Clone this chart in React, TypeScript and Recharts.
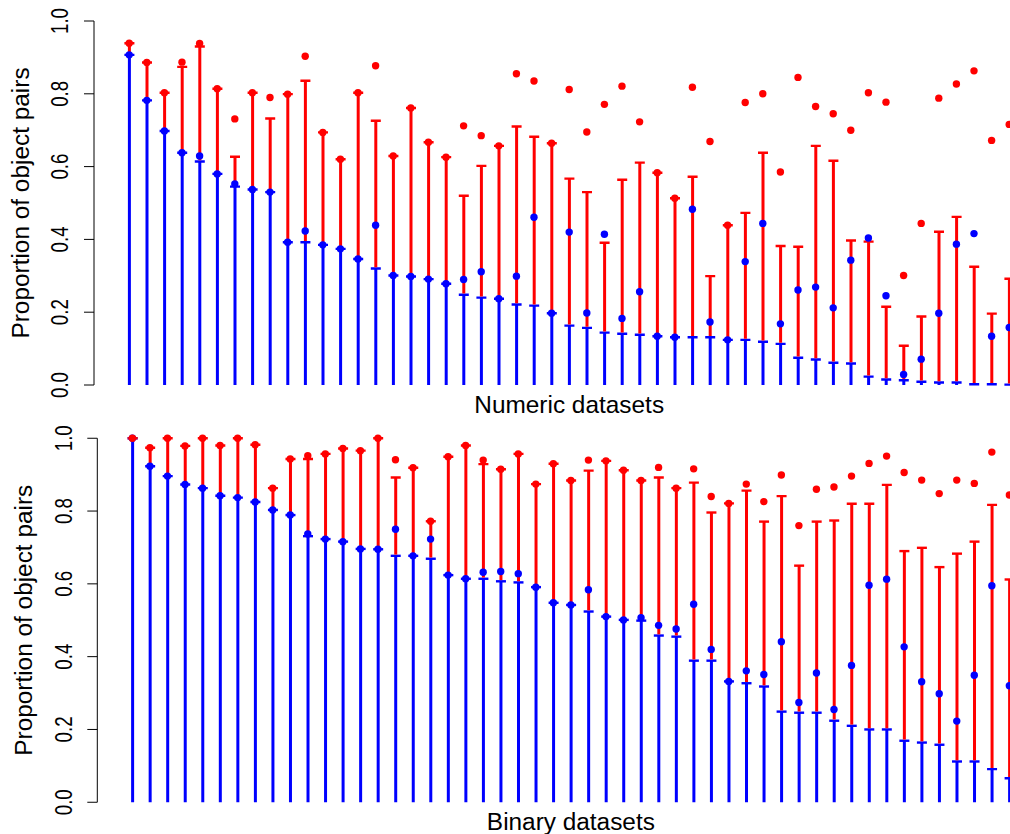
import {
  Bar,
  ComposedChart,
  ReferenceLine,
  Scatter,
  XAxis,
  YAxis,
} from "recharts";

const RED = "#ff0000";
const BLUE = "#0000ff";
const FONT = "'Liberation Sans', Arial, Helvetica, sans-serif";

// numeric datasets (top panel)
const numericBlueTop = [
  0.907, 0.782, 0.698, 0.638, 0.614, 0.58, 0.545, 0.537, 0.53, 0.392, 0.392,
  0.385, 0.374, 0.346, 0.32, 0.301, 0.298, 0.291, 0.278, 0.248, 0.24, 0.237,
  0.221, 0.218, 0.197, 0.163, 0.157, 0.144, 0.141, 0.138, 0.134, 0.131, 0.131,
  0.131, 0.124, 0.124, 0.119, 0.113, 0.075, 0.07, 0.061, 0.059, 0.023, 0.015,
  0.013, 0.009, 0.007, 0.007, 0.002, 0.002, 0.001,
];
const numericRedTop = [
  0.939, 0.886, 0.803, 0.874, 0.93, 0.814, 0.627, 0.803, 0.732, 0.799, 0.836,
  0.694, 0.62, 0.803, 0.726, 0.629, 0.761, 0.667, 0.626, 0.52, 0.602, 0.657,
  0.71, 0.682, 0.664, 0.567, 0.53, 0.391, 0.564, 0.611, 0.583, 0.513, 0.572,
  0.299, 0.439, 0.473, 0.638, 0.382, 0.38, 0.657, 0.616, 0.397, 0.394, 0.215,
  0.108, 0.188, 0.421, 0.462, 0.325, 0.196, 0.292,
];
const numericBlueDot = [
  0.907, 0.782, 0.698, 0.638, 0.629, 0.58, 0.552, 0.537, 0.53, 0.392, 0.423,
  0.385, 0.374, 0.346, 0.439, 0.301, 0.298, 0.291, 0.278, 0.29, 0.311, 0.237,
  0.299, 0.461, 0.197, 0.42, 0.198, 0.414, 0.183, 0.256, 0.134, 0.131, 0.483,
  0.173, 0.124, 0.339, 0.444, 0.168, 0.261, 0.269, 0.212, 0.343, 0.404, 0.245,
  0.029, 0.071, 0.197, 0.387, 0.416, 0.134, 0.158,
];
const numericRedDot = [
  0.939, 0.886, 0.803, 0.887, 0.938, 0.814, 0.731, 0.803, 0.79, 0.799, 0.903,
  0.694, 0.62, 0.803, 0.877, 0.629, 0.761, 0.667, 0.626, 0.712, 0.685, 0.657,
  0.855, 0.835, 0.664, 0.812, 0.695, 0.771, 0.821, 0.723, 0.583, 0.513, 0.818,
  0.669, 0.439, 0.776, 0.8, 0.585, 0.845, 0.765, 0.745, 0.7, 0.803, 0.777,
  0.301, 0.444, 0.788, 0.827, 0.863, 0.672, 0.716,
];

// binary datasets (bottom panel)
const binaryBlueTop = [
  1.0, 0.923, 0.896, 0.873, 0.863, 0.842, 0.837, 0.825, 0.803, 0.789, 0.731,
  0.723, 0.716, 0.696, 0.695, 0.677, 0.677, 0.669, 0.624, 0.614, 0.614, 0.607,
  0.604, 0.591, 0.548, 0.542, 0.524, 0.51, 0.501, 0.499, 0.458, 0.455, 0.389,
  0.389, 0.332, 0.327, 0.318, 0.249, 0.246, 0.246, 0.224, 0.21, 0.2, 0.2,
  0.169, 0.164, 0.158, 0.112, 0.112, 0.091, 0.066,
];
const binaryRedTop = [
  1.0, 0.974, 1.0, 0.979, 1.0, 0.98, 1.0, 0.982, 0.863, 0.943, 0.943, 0.957,
  0.972, 0.966, 1.0, 0.892, 0.919, 0.772, 0.949, 0.98, 0.929, 0.915, 0.957,
  0.874, 0.93, 0.884, 0.911, 0.938, 0.912, 0.884, 0.892, 0.863, 0.878, 0.796,
  0.821, 0.856, 0.771, 0.841, 0.65, 0.771, 0.774, 0.82, 0.82, 0.872, 0.69,
  0.699, 0.646, 0.683, 0.716, 0.817, 0.612,
];
const binaryBlueDot = [
  1.0, 0.923, 0.896, 0.873, 0.863, 0.842, 0.837, 0.825, 0.803, 0.789, 0.737,
  0.723, 0.716, 0.696, 0.695, 0.75, 0.677, 0.723, 0.624, 0.614, 0.632, 0.634,
  0.628, 0.591, 0.548, 0.542, 0.584, 0.51, 0.501, 0.507, 0.486, 0.476, 0.544,
  0.42, 0.332, 0.361, 0.351, 0.441, 0.274, 0.355, 0.255, 0.376, 0.596, 0.613,
  0.427, 0.331, 0.298, 0.223, 0.349, 0.595, 0.32,
];
const binaryRedDot = [
  1.0, 0.974, 1.0, 0.979, 1.0, 0.98, 1.0, 0.982, 0.863, 0.943, 0.952, 0.957,
  0.972, 0.966, 1.0, 0.941, 0.919, 0.772, 0.949, 0.98, 0.94, 0.915, 0.957,
  0.874, 0.93, 0.884, 0.94, 0.938, 0.912, 0.884, 0.92, 0.863, 0.916, 0.84,
  0.821, 0.874, 0.826, 0.899, 0.76, 0.86, 0.866, 0.896, 0.931, 0.951, 0.906,
  0.885, 0.848, 0.885, 0.876, 0.962, 0.844,
];

const yTicks = [0, 0.2, 0.4, 0.6, 0.8, 1.0];

type Row = {
  idx: number;
  blue: number;
  red: number;
  blueDot: number;
  redDot: number;
};

function buildRows(
  blueTop: number[],
  redTop: number[],
  blueDot: number[],
  redDot: number[],
): Row[] {
  return blueTop.map((a, i) => ({
    idx: i + 1,
    blue: a,
    red: Math.max(0, redTop[i] - a),
    blueDot: blueDot[i],
    redDot: redDot[i],
  }));
}

const numericRows = buildRows(
  numericBlueTop,
  numericRedTop,
  numericBlueDot,
  numericRedDot,
);
const binaryRows = buildRows(
  binaryBlueTop,
  binaryRedTop,
  binaryBlueDot,
  binaryRedDot,
);

function BlueStem(props: any) {
  const { x, y, width, height } = props;
  if (x == null || y == null) return null;
  const cx = x + width / 2;
  return (
    <g>
      <line x1={cx} x2={cx} y1={y} y2={y + height} stroke={BLUE} strokeWidth={3} />
      <line x1={cx - 5} x2={cx + 5} y1={y} y2={y} stroke={BLUE} strokeWidth={2.4} />
    </g>
  );
}

function RedStem(props: any) {
  const { x, y, width, height } = props;
  if (x == null || y == null) return null;
  const cx = x + width / 2;
  return (
    <g>
      <line
        x1={cx}
        x2={cx}
        y1={y}
        y2={Math.max(y, y + height - 1.2)}
        stroke={RED}
        strokeWidth={3}
      />
      <line x1={cx - 5} x2={cx + 5} y1={y} y2={y} stroke={RED} strokeWidth={2.4} />
    </g>
  );
}

function dotShape(color: string) {
  return (props: any) => {
    const { cx, cy } = props;
    if (cx == null || cy == null) return <g />;
    return <circle cx={cx} cy={cy} r={3.7} fill={color} />;
  };
}

function YTick(props: any) {
  const { x, y, payload } = props;
  return (
    <g>
      <line x1={x - 10} x2={x} y1={y} y2={y} stroke="#000" strokeWidth={1} />
      <text
        transform={`translate(${x - 25.6},${y}) rotate(-90)`}
        textAnchor="middle"
        fontSize={23}
        fontFamily={FONT}
        fill="#000"
        textLength={26}
        lengthAdjust="spacingAndGlyphs"
      >
        {Number(payload.value).toFixed(1)}
      </text>
    </g>
  );
}

function Panel({
  rows,
  xLabel,
  margin,
}: {
  rows: Row[];
  xLabel: string;
  margin: { top: number; right: number; bottom: number; left: number };
}) {
  return (
    <ComposedChart
      width={1060}
      height={margin.top + margin.bottom + 16 + 393.12}
      data={rows}
      margin={margin}
      barSize={10}
    >
      <XAxis
        dataKey="idx"
        type="number"
        domain={[-1, 53]}
        allowDataOverflow
        height={16}
        tick={false}
        tickLine={false}
        axisLine={false}
        label={{
          content: (p: any) => {
            const vb = p.viewBox;
            return (
              <text
                x={vb.x + vb.width / 2}
                y={vb.y + 13.6}
                textAnchor="middle"
                fontSize={24.4}
                fontFamily={FONT}
                fill="#000"
              >
                {xLabel}
              </text>
            );
          },
        }}
      />
      <YAxis
        type="number"
        domain={[-0.04, 1.04]}
        allowDataOverflow
        ticks={yTicks}
        interval={0}
        width={60}
        axisLine={false}
        tickLine={false}
        tickSize={0}
        tickMargin={0}
        tick={<YTick />}
        label={{
          content: (p: any) => {
            const vb = p.viewBox;
            const bx = vb.x + vb.width - 65;
            const cy = vb.y + vb.height / 2;
            return (
              <text
                transform={`translate(${bx},${cy}) rotate(-90)`}
                textAnchor="middle"
                fontSize={24.4}
                fontFamily={FONT}
                fill="#000"
              >
                Proportion of object pairs
              </text>
            );
          },
        }}
      />
      <ReferenceLine
        segment={[
          { x: -1, y: 0 },
          { x: -1, y: 1 },
        ]}
        stroke="#000"
        strokeWidth={1}
        ifOverflow="visible"
      />
      <Bar
        dataKey="blue"
        stackId="s"
        shape={<BlueStem />}
        isAnimationActive={false}
      />
      <Bar
        dataKey="red"
        stackId="s"
        shape={<RedStem />}
        isAnimationActive={false}
      />
      <Scatter dataKey="blueDot" shape={dotShape(BLUE)} isAnimationActive={false} />
      <Scatter dataKey="redDot" shape={dotShape(RED)} isAnimationActive={false} />
    </ComposedChart>
  );
}

export default function App() {
  return (
    <div
      style={{
        position: "absolute",
        left: 0,
        top: 0,
        width: 1010,
        height: 834,
        overflow: "hidden",
        background: "#fff",
      }}
    >
      <div style={{ position: "absolute", left: 0, top: 0 }}>
        <Panel
          rows={numericRows}
          xLabel="Numeric datasets"
          margin={{ top: 6.44, right: 15.6, bottom: 4.44, left: 34 }}
        />
      </div>
      <div style={{ position: "absolute", left: 0, top: 420 }}>
        <Panel
          rows={binaryRows}
          xLabel="Binary datasets"
          margin={{ top: 3.7, right: 15.54, bottom: 1.14, left: 37.3 }}
        />
      </div>
    </div>
  );
}
